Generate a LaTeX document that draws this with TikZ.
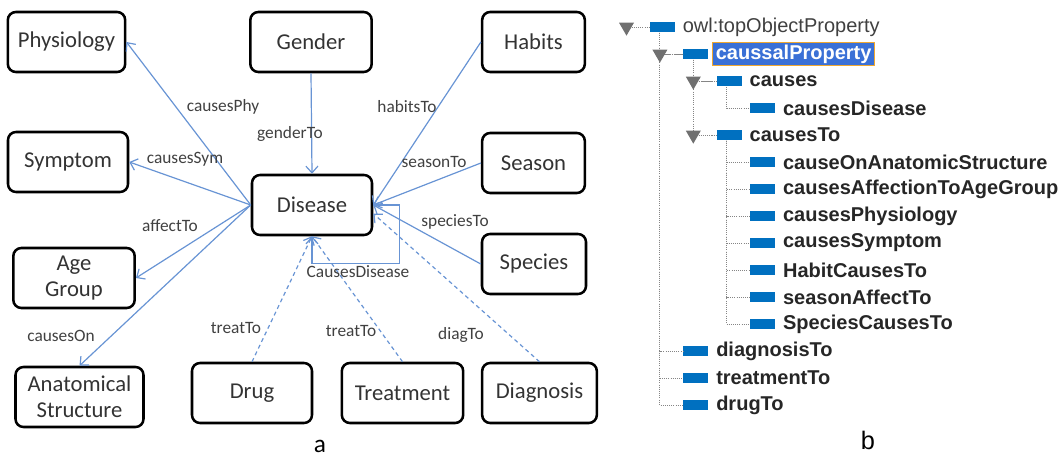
\documentclass[tikz,border=0pt]{standalone}
\usepackage{fontspec}
\setmainfont{Carlito}
\newfontfamily\treefont{Liberation Sans}
\usetikzlibrary{calc,positioning,arrows.meta,shapes.geometric}

\definecolor{linkblue}{RGB}{104,148,212}
\definecolor{propblue}{RGB}{0,112,192}
\definecolor{selblue}{RGB}{58,112,214}
\definecolor{selorange}{RGB}{240,168,48}
\definecolor{treegrey}{RGB}{112,112,112}

\newlength\boxh
\setlength\boxh{45pt}

\tikzset{
	concept/.style={draw, line width=1.9pt, rounded corners=6pt, minimum height=\boxh, align=center,
		text=black!80, font=\fontsize{17}{19.5}\selectfont},
	rel/.style={draw=linkblue, line width=0.9pt, -{Straight Barb[length=5pt,width=9pt]}},
	weak/.style={rel, dash pattern=on 3pt off 2.5pt},
	lbl/.style={text=black!75, font=\fontsize{13}{15}\selectfont},
	propicon/.style={fill=propblue, minimum width=18.75pt, minimum height=8pt, inner sep=0pt},
	proptext/.style={inner sep=1.5pt, text=black!85, font=\treefont\bfseries\fontsize{15}{17}\selectfont},
	selected/.style={fill=selblue, draw=selorange, line width=0.8pt, text=white, inner xsep=2.5pt},
	expander/.style={regular polygon, regular polygon sides=3, shape border rotate=180, fill=treegrey,
		minimum size=13pt, inner sep=0pt},
	treeline/.style={draw=treegrey!85, line width=0.6pt, densely dotted},
}

\begin{document}
\begin{tikzpicture}[x=0.75pt,y=-0.75pt]
	\useasboundingbox (0,0) rectangle (1062,460);

	% part a: concepts
	\node[concept, minimum width=88pt] (phy) at (66.5,42) {Physiology};
	\node[concept, minimum width=91pt] (gen) at (311,42) {Gender};
	\node[concept, minimum width=77pt] (hab) at (533.5,42) {Habits};
	\node[concept, minimum width=90pt] (sym) at (68,162) {Symptom};
	\node[concept, minimum width=90pt] (dis) at (312,205) {Disease};
	\node[concept, minimum width=77pt] (sea) at (533.5,163) {Season};
	\node[concept, minimum width=91pt] (age) at (74,278) {Age\\Group};
	\node[concept, minimum width=78pt] (spe) at (534,264) {Species};
	\node[concept, minimum width=96pt] (ana) at (79.5,397) {Anatomical\\Structure};
	\node[concept, minimum width=90pt] (drg) at (252,393) {Drug};
	\node[concept, minimum width=91pt] (trt) at (402.5,393) {Treatment};
	\node[concept, minimum width=86pt] (dia) at (539.5,393) {Diagnosis};

	\draw[rel] (dis.west) -- (phy.east);
	\draw[rel] (dis.west) -- (sym.east);
	\draw[rel] (dis.west) -- (age.east);
	\draw[rel] (dis.west) -- (ana.north);
	\draw[rel] (gen.south) -- (dis.north);
	\draw[rel] (hab.west) -- (dis.east);
	\draw[rel] (sea.west) -- (dis.east);
	\draw[rel] (spe.west) -- (dis.east);
	\draw[rel] (dis.east) -- ++(26,0) |- ($(dis.south)+(0,27)$) -- (dis.south);
	\draw[weak] (drg.north) -- (dis.south);
	\draw[weak] (trt.north) -- (dis.south);
	\draw[weak] (dia.north) -- (dis.-8);

	\node[lbl] (l-phy) at (223,107) {causesPhy};
	\node[lbl] (l-gen) at (290,134) {genderTo};
	\node[lbl] (l-hab) at (407,107) {habitsTo};
	\node[lbl] (l-sym) at (185,159) {causesSym};
	\node[lbl] (l-sea) at (434,162) {seasonTo};
	\node[lbl] (l-age) at (170,226) {affectTo};
	\node[lbl] (l-spe) at (455,222) {speciesTo};
	\node[lbl] (l-dis) at (358,272) {CausesDisease};
	\node[lbl] (l-ana) at (61,336) {causesOn};
	\node[lbl] (l-drg) at (236,328) {treatTo};
	\node[lbl] (l-trt) at (351,331) {treatTo};
	\node[lbl] (l-dia) at (461,335) {diagTo};
	\node[font=\fontsize{19}{21}\selectfont, inner sep=1pt] (cap-a) at (320,446) {a};

	% part b: property tree
	\node[propicon] (i0) at (662.5,27) {};
	\node[proptext, font=\treefont\fontsize{15}{17}\selectfont, text=black!75, right=4pt of i0] (t0) {owl:topObjectProperty};
	\node[propicon] (i1) at (695.9,54) {};
	\node[proptext, selected, right=2.5pt of i1] (t1) {caussalProperty};
	\foreach \lv/\rw/\txt in {2/2/causes, 3/3/causesDisease, 2/4/causesTo, 3/5/causeOnAnatomicStructure,
		3/6/causesAffectionToAgeGroup, 3/7/causesPhysiology, 3/8/causesSymptom, 3/9/HabitCausesTo,
		3/10/seasonAffectTo, 3/11/SpeciesCausesTo, 1/12/diagnosisTo, 1/13/treatmentTo, 1/14/drugTo}{
		\node[propicon] (i\rw) at ({662.5+33.4*\lv},{27+27*\rw}) {};
		\node[proptext, right=4pt of i\rw] (t\rw) {\txt};
	}

	% dotted tree lines
	\foreach \p/\c in {0/1, 0/12, 0/13, 0/14, 1/2, 1/4, 2/3, 4/5, 4/6, 4/7, 4/8, 4/9, 4/10, 4/11}{
		\draw[treeline] ([xshift=7.5pt]i\p.south west) |- (i\c.west);
	}
	\foreach \lv/\rw in {0/0, 1/1, 2/2, 2/4}{
		\node[expander] (x\rw) at ({626.5+33.4*\lv},{27+27*\rw}) {};
		\draw[treeline] (x\rw) -- (i\rw);
	}
	\node[font=\treefont\fontsize{19}{21}\selectfont, inner sep=1pt] (cap-b) at (868,440) {b};
\end{tikzpicture}
\end{document}
